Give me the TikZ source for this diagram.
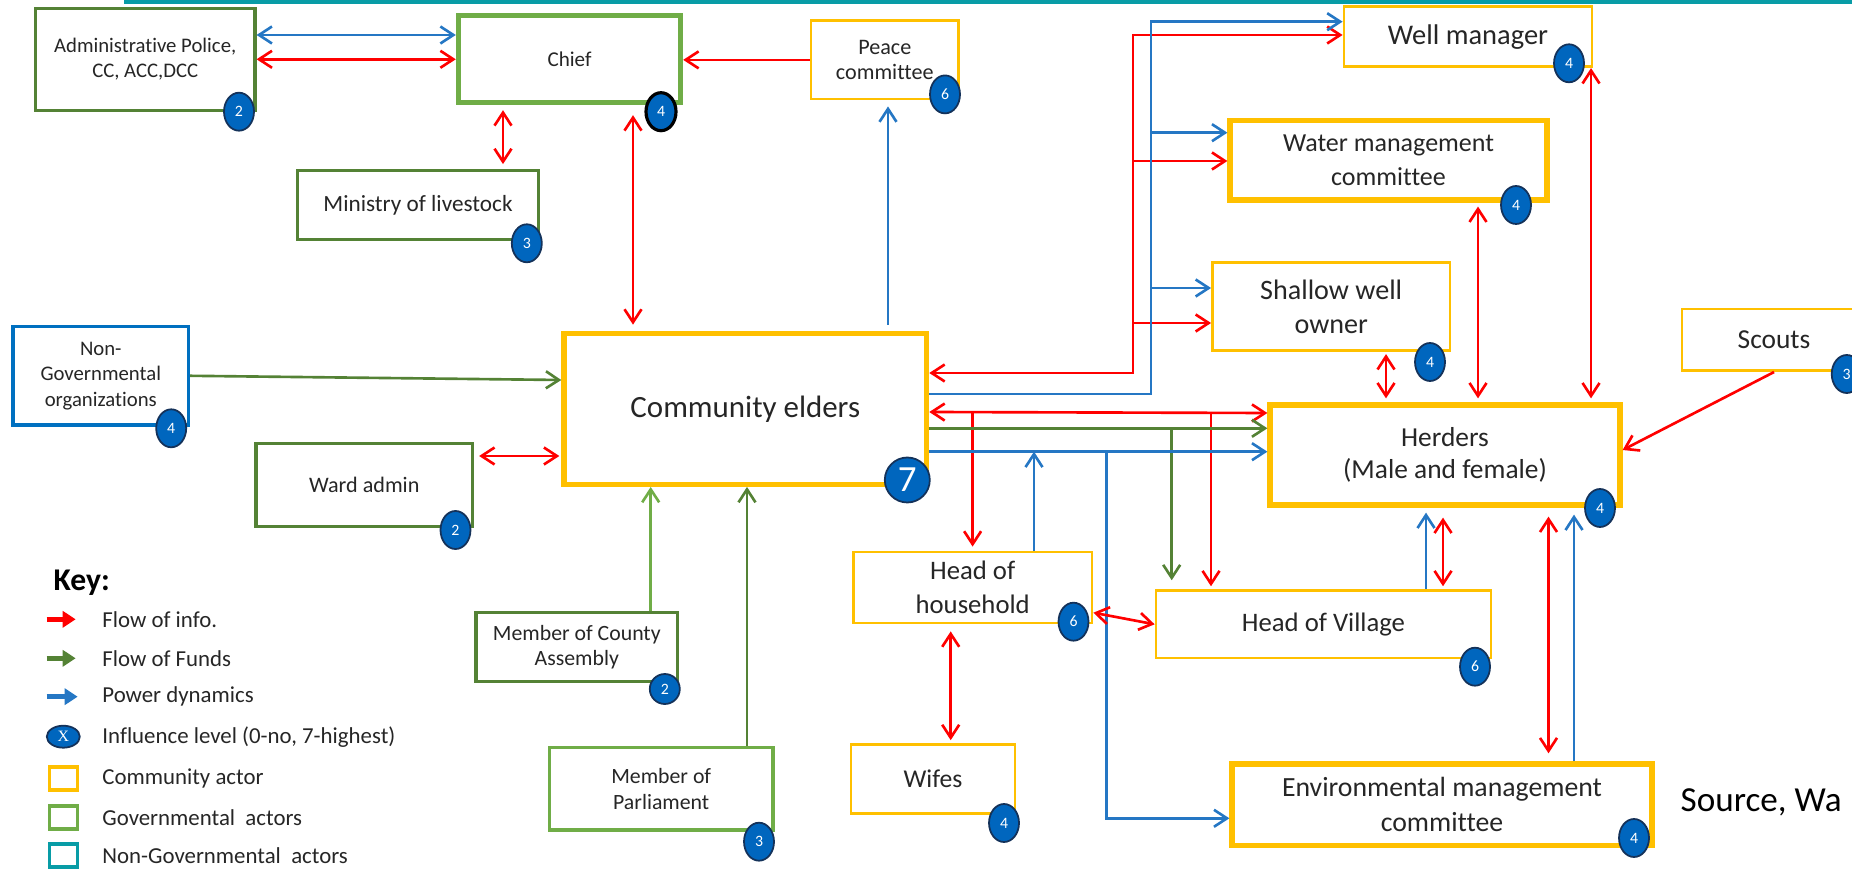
\documentclass[tikz,border=0pt]{standalone}
\usepackage{fontspec}
\setmainfont{Carlito}[Ligatures={NoCommon}]
\newfontfamily\serifx{Liberation Serif}
\usepackage{xcolor}
\usetikzlibrary{arrows.meta,shapes.geometric}

\definecolor{commyellow}{RGB}{255,192,0}
\definecolor{govdark}{RGB}{84,130,53}
\definecolor{govlight}{RGB}{112,173,71}
\definecolor{ngoblue}{RGB}{0,112,192}
\definecolor{barteal}{RGB}{8,156,166}
\definecolor{infored}{RGB}{255,0,0}
\definecolor{powblue}{RGB}{37,119,196}
\definecolor{badgeblue}{RGB}{0,102,190}
\definecolor{badgeedge}{RGB}{20,50,90}

\begin{document}
\begin{tikzpicture}
        [x=0.1mm, y=-0.1mm,
    every node/.style={text=black!85, inner sep=0pt},
    box/.style={draw, fill=white, align=center},
    comm/.style={box, draw=commyellow, line width=0.8pt},
    commthick/.style={box, draw=commyellow, line width=1.5pt},
    gov/.style={box, draw=govdark, line width=0.9pt},
    govthick/.style={box, draw=govlight, line width=1.4pt},
    ngobox/.style={box, draw=ngoblue, line width=0.9pt},
    badge/.style={ellipse, draw=badgeedge, fill=badgeblue, line width=0.5pt, minimum width=3mm, minimum height=3.8mm, text=white, font=\fontsize{4.5}{5}\selectfont},
    info/.style={draw=infored, line width=0.75pt},
    fund/.style={draw=govdark, line width=0.75pt},
    fundlight/.style={draw=govlight, line width=0.75pt},
    pow/.style={draw=powblue, line width=0.75pt},
    keyarrow/.style={line width=1.4pt, -{Triangle[length=1.3mm,width=1.6mm]}},
    keybox/.style={draw, line width=1pt, minimum width=2.8mm, minimum height=2.3mm},
    keytext/.style={anchor=west, font=\fontsize{6.5}{7}\selectfont},
    >={Straight Barb[length=1.3mm,width=1.7mm]}]
    \useasboundingbox (0,0) rectangle (1852,869);
    \clip (0,0) rectangle (1852,869);
    \fill[barteal] (124,0) rectangle (1852,4);

    \node[gov, minimum width=21.96mm, minimum height=10.24mm, font=\fontsize{5.9}{7.1}\selectfont] (adm) at (145.2,59.5) {Administrative Police,\\CC, ACC,DCC};
    \node[govthick, minimum width=22.25mm, minimum height=8.77mm, font=\fontsize{6}{7}\selectfont] (chief) at (569.5,58.9) {Chief};
    \node[comm, minimum width=14.76mm, minimum height=7.83mm, font=\fontsize{6.3}{7.1}\selectfont] (peace) at (884.8,59.9) {Peace\\committee};
    \node[gov, minimum width=24.12mm, minimum height=6.86mm, font=\fontsize{6.6}{7.5}\selectfont] (minis) at (418,205) {Ministry of livestock};
    \node[commthick, minimum width=36.27mm, minimum height=15.1mm, font=\fontsize{8.8}{10}\selectfont] (elders) at (745.3,408.8) {Community elders};
    \node[ngobox, minimum width=17.56mm, minimum height=9.83mm, font=\fontsize{5.9}{7.3}\selectfont] (ngo) at (100.8,375.8) {Non-\\Governmental\\organizations};
    \node[gov, minimum width=21.65mm, minimum height=8.34mm, font=\fontsize{6.3}{7}\selectfont] (ward) at (364.3,485) {Ward admin};
    \node[gov, minimum width=20.16mm, minimum height=6.94mm, font=\fontsize{6.2}{7}\selectfont] (mca) at (576.8,647) {Member of County\\Assembly};
    \node[gov, draw=govlight, line width=1pt, minimum width=22.35mm, minimum height=8.27mm, font=\fontsize{6.2}{7.4}\selectfont] (mp) at (661.2,788.7) {Member of\\Parliament};
    \node[comm, minimum width=24.8mm, minimum height=6mm, font=\fontsize{8.1}{9}\selectfont] (wellman) at (1468,36.7) {Well manager};
    \node[commthick, minimum width=31.7mm, minimum height=7.93mm, font=\fontsize{7.4}{9.6}\selectfont] (water) at (1388.5,160.3) {Water management\\committee};
    \node[comm, minimum width=23.75mm, minimum height=8.8mm, font=\fontsize{8}{9.8}\selectfont] (shallow) at (1331.2,306.7) {Shallow well\\owner};
    \node[comm, minimum width=18.4mm, minimum height=6.17mm, font=\fontsize{7.8}{9}\selectfont] (scouts) at (1774,339.8) {Scouts};
    \node[commthick, minimum width=35mm, minimum height=10mm, font=\fontsize{7.8}{9}\selectfont] (herders) at (1445,455) {Herders\\(Male and female)};
    \node[comm, minimum width=23.86mm, minimum height=7.1mm, font=\fontsize{7.6}{9.5}\selectfont] (hoh) at (972.7,587.5) {Head of\\household};
    \node[comm, minimum width=33.5mm, minimum height=6.73mm, font=\fontsize{7.6}{9}\selectfont] (hov) at (1323.5,624.3) {Head of Village};
    \node[comm, minimum width=16.4mm, minimum height=6.97mm, font=\fontsize{7.3}{9}\selectfont] (wifes) at (933,779) {Wifes};
    \node[commthick, minimum width=42mm, minimum height=8.17mm, font=\fontsize{7.9}{9.9}\selectfont] (env) at (1442,804.8) {Environmental management\\committee};

    \draw[pow,<->] (adm.east |- 0,35) -- (chief.west |- 0,35);
    \draw[info,<->] (adm.east |- 0,59.3) -- (chief.west |- 0,59.3);
    \draw[info,->] (peace.west) -- (chief.east |- peace.west);
    \draw[info,<->,shorten <=0.5mm,shorten >=0.5mm] (chief.south -| 503,0) -- (minis.north -| 503,0);
    \draw[info,<->,shorten <=1mm,shorten >=0.6mm] (chief.south -| 633,0) -- (elders.north -| 633,0);
    \draw[pow,->,shorten <=0.6mm,shorten >=0.6mm] (elders.north -| 888,0) -- (peace.south -| 888,0);
    \draw[fund,->] (ngo.east) -- (elders.west |- 0,380);
    \draw[info,<->,shorten <=0.5mm,shorten >=0.2mm] (ward.east |- 0,456) -- (elders.west |- 0,456);
    \draw[fundlight,->] (mca.north -| 650.7,0) -- (elders.south -| 650.7,0);
    \draw[fund,->] (mp.north -| 747,0) -- (elders.south -| 747,0);

    \coordinate (rtrunk) at (1133,373);
    \coordinate (btrunk) at (1151,394);
    \draw[info,<->] (elders.east |- rtrunk) -- (rtrunk) |- (wellman.west |- 0,35);
    \draw[info,->] (rtrunk |- 0,161) -- (water.west |- 0,161);
    \draw[info,->] (rtrunk |- 0,323) -- (shallow.west |- 0,323);
    \draw[pow,->] (elders.east |- btrunk) -- (btrunk) |- (wellman.west |- 0,21.7);
    \draw[pow,->] (btrunk |- 0,132.7) -- (water.west |- 0,132.7);
    \draw[pow,->] (btrunk |- 0,288) -- (shallow.west |- 0,288);

    \coordinate (infoline) at (972.6,412);
    \coordinate (fundline) at (1171.7,428.3);
    \coordinate (powline) at (1106.5,451.7);
    \draw[info,<->] (elders.east |- infoline) -- (herders.west |- 0,413);
    \draw[info,->,shorten >=0.4mm] (infoline) -- (hoh.north -| infoline);
    \draw[info,->,shorten >=0.3mm] (infoline -| 1211,0) -- (hov.north -| 1211,0);
    \draw[fund,->] (elders.east |- fundline) -- (herders.west |- fundline);
    \draw[fund,->,shorten >=0.9mm] (fundline) -- (hov.north -| fundline);
    \draw[pow,->] (elders.east |- powline) -- (herders.west |- powline);
    \draw[pow,->] (powline) |- (env.west |- 0,818.3);
    \draw[pow,->] (hoh.north -| 1034,0) -- (powline -| 1034,0);
    \draw[info,<->] (hoh.east |- 0,612.7) -- (hov.west);
    \draw[info,<->,shorten <=0.7mm,shorten >=0.26mm] (hoh.south -| 950.7,0) -- (wifes.north -| 950.7,0);
    \draw[info,<->,shorten <=0.2mm,shorten >=0.4mm] (shallow.south -| 1386,0) -- (herders.north -| 1386,0);
    \draw[info,<->,shorten <=0.4mm,shorten >=0.4mm] (water.south -| 1478,0) -- (herders.north -| 1478,0);
    \draw[info,<->,shorten >=0.4mm] (wellman.south -| 1591,0) -- (herders.north -| 1591,0);
    \draw[info,->] (scouts.south) -- (herders.east |- 0,450);
    \draw[pow,->,shorten >=0.5mm] (hov.north -| 1426,0) -- (herders.south -| 1426,0);
    \draw[info,<->,shorten <=1mm,shorten >=0.3mm] (herders.south -| 1443,0) -- (hov.north -| 1443,0);
    \draw[info,<->,shorten <=0.9mm,shorten >=0.8mm] (herders.south -| 1548.5,0) -- (env.north -| 1548.5,0);
    \draw[pow,->,shorten >=0.7mm] (env.north -| 1574,0) -- (herders.south -| 1574,0);

    \node[badge] (badm) at (239,111.7) {2};
    \node[badge, draw=black, line width=0.9pt] (bchief) at (661,111.7) {4};
    \node[badge] (bpeace) at (945,94.4) {6};
    \node[badge] (bminis) at (526.8,243.3) {3};
    \node[badge, circle, minimum size=4.5mm, font=\fontsize{10.5}{11}\selectfont] (belders) at (907.3,480) {7};
    \node[badge] (bngo) at (171.2,428.3) {4};
    \node[badge] (bward) at (455.5,530) {2};
    \node[badge, minimum height=3mm] (bmca) at (664.8,689) {2};
    \node[badge] (bmp) at (759,841.7) {3};
    \node[badge] (bwell) at (1569,63.3) {4};
    \node[badge] (bwater) at (1516,205) {4};
    \node[badge] (bshallow) at (1430,362) {4};
    \node[badge] (bscouts) at (1846.7,374) {3};
    \node[badge] (bherders) at (1600,508) {4};
    \node[badge] (bhoh) at (1073.5,621.7) {6};
    \node[badge] (bhov) at (1475,666.7) {6};
    \node[badge] (bwifes) at (1004,823) {4};
    \node[badge] (benv) at (1634,838) {4};

    \node[anchor=west, font=\bfseries\fontsize{9}{10}\selectfont, text=black] (key) at (53,583) {Key:};
    \node[keytext] (kinfo) at (101.7,619.3) {Flow of info.};
    \node[keytext] (kfund) at (101.7,658.3) {Flow of Funds};
    \node[keytext] (kpow) at (101.7,696.7) {Power dynamics};
    \node[keytext] (kinfl) at (101.7,736.7) {Influence level (0-no, 7-highest)};
    \node[keytext] (kcomm) at (101.7,778.3) {Community actor};
    \node[keytext] (kgov) at (101.7,817.3) {Governmental\ \ actors};
    \node[keytext] (kngo) at (101.7,855.7) {Non-Governmental\ \ actors};
    \draw[keyarrow, infored] (kinfo.west) ++(-55,0) -- ++(29,0);
    \draw[keyarrow, govdark] (kfund.west) ++(-55,0) -- ++(29,0);
    \draw[keyarrow, powblue] (kpow.west) ++(-55,0) -- ++(31,0);
    \node[badge, minimum width=3.3mm, minimum height=2.2mm, font=\serifx\fontsize{4.5}{5}\selectfont] (kx) at (63.3,736.7) {X};
    \node[keybox, draw=commyellow] (kbcomm) at (63.5,778.3) {};
    \node[keybox, draw=govlight] (kbgov) at (63.5,817.3) {};
    \node[keybox, draw=barteal] (kbngo) at (63.5,855.7) {};

    \node[anchor=west, font=\fontsize{10}{11}\selectfont, text=black] (source) at (1680,802) {Source, Wa};
    \end{tikzpicture}
\end{document}
